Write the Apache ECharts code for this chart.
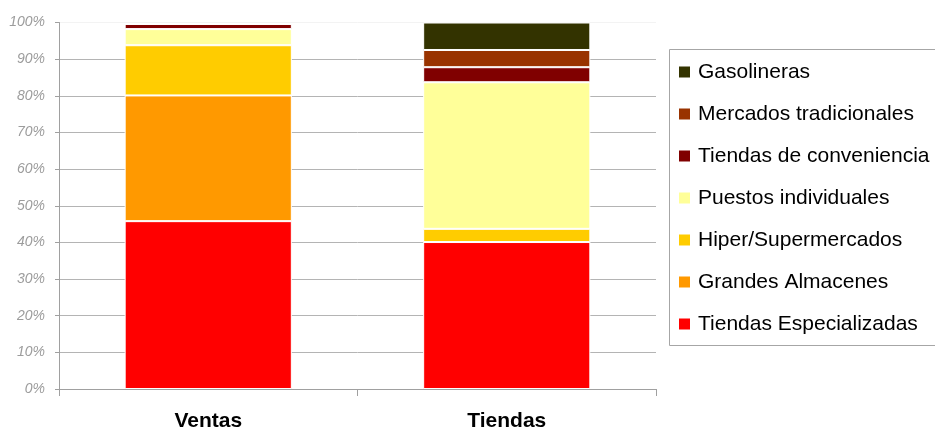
<!DOCTYPE html>
<html>
<head>
<meta charset="utf-8">
<script src="https://cdn.jsdelivr.net/npm/echarts@6/dist/echarts.min.js"></script>
<style>
  html, body { margin: 0; padding: 0; background: #ffffff; }
  #chart { width: 935px; height: 432px; }
</style>
</head>
<body>
<div id="chart"></div>
<script>
// Categories on the x axis
const categories = ['Ventas', 'Tiendas'];

// Share (%) of each channel, stacked bottom to top
const tiendasEspecializadas = [45.8, 40.1];
const grandesAlmacenes      = [34.3, 0];
const hiperSupermercados    = [13.7, 3.6];
const puestosIndividuales   = [4.4, 40.0];
const tiendasConveniencia   = [1.4, 4.1];
const mercadosTradicionales = [0, 4.7];
const gasolineras           = [0, 7.5];

// Y axis ticks
const yMin = 0, yMax = 100, yStep = 10;

const seriesDefs = [
  { name: 'Tiendas Especializadas', data: tiendasEspecializadas, color: '#FF0000' },
  { name: 'Grandes Almacenes',      data: grandesAlmacenes,      color: '#FF9900' },
  { name: 'Hiper/Supermercados',    data: hiperSupermercados,    color: '#FFCC00' },
  { name: 'Puestos individuales',   data: puestosIndividuales,   color: '#FFFF99' },
  { name: 'Tiendas de conveniencia',data: tiendasConveniencia,   color: '#800000' },
  { name: 'Mercados tradicionales', data: mercadosTradicionales, color: '#993300' },
  { name: 'Gasolineras',            data: gasolineras,           color: '#333300' }
];

const gridColors = ['#b4b4b4','#b4b4b4','#b4b4b4','#b4b4b4','#b4b4b4','#b4b4b4',
                    '#b4b4b4','#b4b4b4','#b4b4b4','#b4b4b4','#f3f3f3'];

const chart = echarts.init(document.getElementById('chart'), null, { renderer: 'canvas' });

chart.setOption({
  animation: false,
  backgroundColor: '#ffffff',
  textStyle: { fontFamily: '"Liberation Sans", Arial, sans-serif' },
  grid: { left: 59, right: 279, top: 22.5, bottom: 42, containLabel: false },
  // Legend frame runs past the right edge of the canvas
  graphic: [{
    type: 'rect',
    shape: { x: 669.5, y: 49.5, width: 300, height: 296 },
    style: { fill: 'none', stroke: '#a6a6a6', lineWidth: 1 },
    silent: true,
    z: 0
  }],
  legend: {
    orient: 'vertical',
    left: 669,
    top: 49,
    padding: [12, 10, 11, 10],
    borderWidth: 0,
    itemWidth: 11,
    itemHeight: 11,
    itemGap: 20,
    icon: 'rect',
    itemStyle: { borderWidth: 0 },
    textStyle: {
      fontSize: 21,
      lineHeight: 22,
      color: '#000000',
      padding: [0, 0, 0, 3],
      fontFamily: '"Liberation Sans", Arial, sans-serif'
    },
    data: seriesDefs.map(s => s.name).reverse()
  },
  xAxis: {
    type: 'category',
    data: categories,
    axisLine: { show: true, lineStyle: { color: '#a0a0a0', width: 1 } },
    axisTick: { show: true, length: 7, alignWithLabel: false, lineStyle: { color: '#a0a0a0' } },
    axisLabel: {
      fontSize: 21,
      fontWeight: 'bold',
      color: '#000000',
      margin: 22,
      fontFamily: '"Liberation Sans", Arial, sans-serif'
    },
    splitLine: { show: false }
  },
  yAxis: {
    type: 'value',
    min: yMin,
    max: yMax,
    interval: yStep,
    axisLine: { show: true, lineStyle: { color: '#a0a0a0', width: 1 } },
    axisTick: { show: true, length: 4, lineStyle: { color: '#a0a0a0' } },
    axisLabel: {
      formatter: '{value}%',
      fontSize: 14,
      fontStyle: 'italic',
      color: '#9c9c9c',
      margin: 14,
      fontFamily: '"Liberation Sans", Arial, sans-serif'
    },
    splitLine: { show: true, lineStyle: { color: gridColors, width: 1 } }
  },
  series: seriesDefs.map(s => ({
    name: s.name,
    type: 'bar',
    stack: 'total',
    barWidth: '56%',
    data: s.data,
    itemStyle: { color: s.color, borderColor: '#ffffff', borderWidth: 1 },
    emphasis: { disabled: true }
  }))
});
</script>
</body>
</html>
